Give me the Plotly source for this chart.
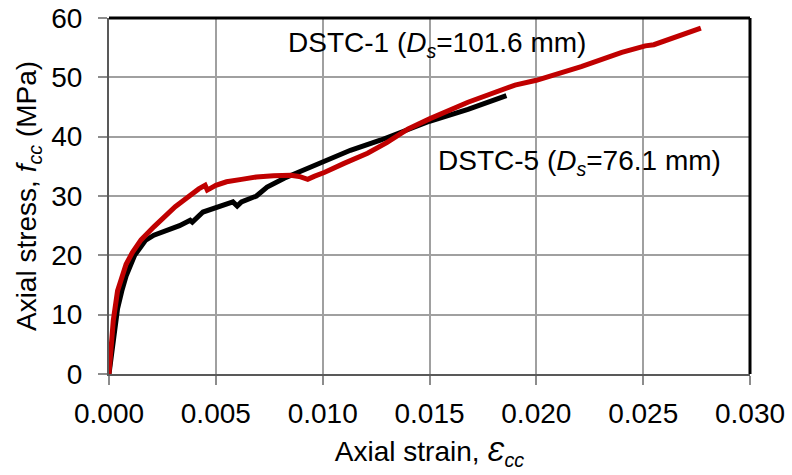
import plotly.graph_objects as go

# DSTC-1 (red)
strain_dstc1 = [0, 0.0001, 0.0002, 0.0004, 0.0006, 0.0008, 0.0011, 0.0015, 0.0021, 0.0027,
                0.0031, 0.0035, 0.0039, 0.0042, 0.0045, 0.0046, 0.0050, 0.0055, 0.0062, 0.0069,
                0.0077, 0.0085, 0.0089, 0.0093, 0.0096, 0.0101, 0.0110, 0.0121, 0.0130, 0.0140,
                0.0150, 0.0168, 0.0190, 0.0200, 0.0221, 0.0240, 0.0251, 0.0255, 0.0277]
stress_dstc1 = [0, 5, 9, 14, 16.5, 18.5, 20.5, 22.6, 24.8, 27.0,
                28.2, 29.3, 30.5, 31.2, 31.8, 31.0, 31.8, 32.4, 32.8, 33.2,
                33.4, 33.5, 33.3, 32.8, 33.3, 34.0, 35.5, 37.2, 39.0, 41.3,
                43.0, 45.8, 48.7, 49.5, 51.8, 54.2, 55.3, 55.5, 58.3]

# DSTC-5 (black)
strain_dstc5 = [0, 0.0001, 0.0002, 0.0004, 0.0006, 0.0008, 0.0012, 0.0017, 0.0021, 0.0027,
                0.0033, 0.0038, 0.0039, 0.0044, 0.0050, 0.0058, 0.0060, 0.0062, 0.0069, 0.0074,
                0.0082, 0.0090, 0.0100, 0.0113, 0.0127, 0.0136, 0.0150, 0.0168, 0.0186]
stress_dstc5 = [0, 3, 6.5, 11, 14, 16.5, 20, 22.5, 23.4, 24.2,
                25.0, 25.9, 25.6, 27.3, 28.0, 29.0, 28.3, 29.0, 30.0, 31.5,
                33.0, 34.2, 35.7, 37.7, 39.4, 40.6, 42.6, 44.6, 46.9]

x_ticks = [0.000, 0.005, 0.010, 0.015, 0.020, 0.025, 0.030]
x_tick_labels = ["0.000", "0.005", "0.010", "0.015", "0.020", "0.025", "0.030"]
y_ticks = [0, 10, 20, 30, 40, 50, 60]

FONT = "Arial, Liberation Sans, sans-serif"
FS = 28

fig = go.Figure()
fig.add_trace(go.Scatter(x=strain_dstc5, y=stress_dstc5, mode="lines",
                         line=dict(color="#000000", width=5), name="DSTC-5"))
fig.add_trace(go.Scatter(x=strain_dstc1, y=stress_dstc1, mode="lines",
                         line=dict(color="#C00000", width=5), name="DSTC-1"))

fig.add_annotation(x=0.01535, y=55.5, xref="x", yref="y", showarrow=False,
                   text="DSTC-1 (<i>D</i><sub><i>s</i></sub>=101.6 mm)",
                   font=dict(family=FONT, size=FS, color="#000"))
fig.add_annotation(x=0.0220, y=35.6, xref="x", yref="y", showarrow=False,
                   text="DSTC-5 (<i>D</i><sub><i>s</i></sub>=76.1 mm)",
                   font=dict(family=FONT, size=FS, color="#000"))

# top and right borders (thick black)
fig.add_shape(type="line", xref="paper", yref="paper", x0=0, x1=1, y0=1, y1=1,
              line=dict(color="#000", width=3))
fig.add_shape(type="line", xref="paper", yref="paper", x0=1, x1=1, y0=0, y1=1,
              line=dict(color="#000", width=3))

fig.update_layout(
    width=792, height=475,
    margin=dict(l=109, r=42, t=18, b=101),
    paper_bgcolor="white", plot_bgcolor="white",
    showlegend=False,
    font=dict(family=FONT, size=FS, color="#000"),
    xaxis=dict(range=[0, 0.030], tickvals=x_ticks, ticktext=x_tick_labels,
               automargin=False,
               showgrid=True, gridcolor="#A0A0A0", gridwidth=1.5,
               showline=True, linecolor="#595959", linewidth=2,
               ticks="outside", ticklen=9, tickcolor="#8c8c8c", tickwidth=1.5,
               ticklabelstandoff=4,
               zeroline=False,
               title=dict(text="Axial strain, <i>Ɛ</i><sub><i>cc</i></sub>", standoff=14,
                          font=dict(family=FONT, size=FS))),
    yaxis=dict(range=[0, 60], tickvals=y_ticks,
               automargin=False,
               showgrid=True, gridcolor="#A0A0A0", gridwidth=1.5,
               showline=True, linecolor="#595959", linewidth=2,
               ticks="outside", ticklen=9, tickcolor="#8c8c8c", tickwidth=1.5,
               ticklabelstandoff=10,
               zeroline=False,
               title=dict(text="Axial stress, <i>f</i><sub><i>cc</i></sub> (MPa)", standoff=6,
                          font=dict(family=FONT, size=FS))),
)

fig.write_html("out.html")
